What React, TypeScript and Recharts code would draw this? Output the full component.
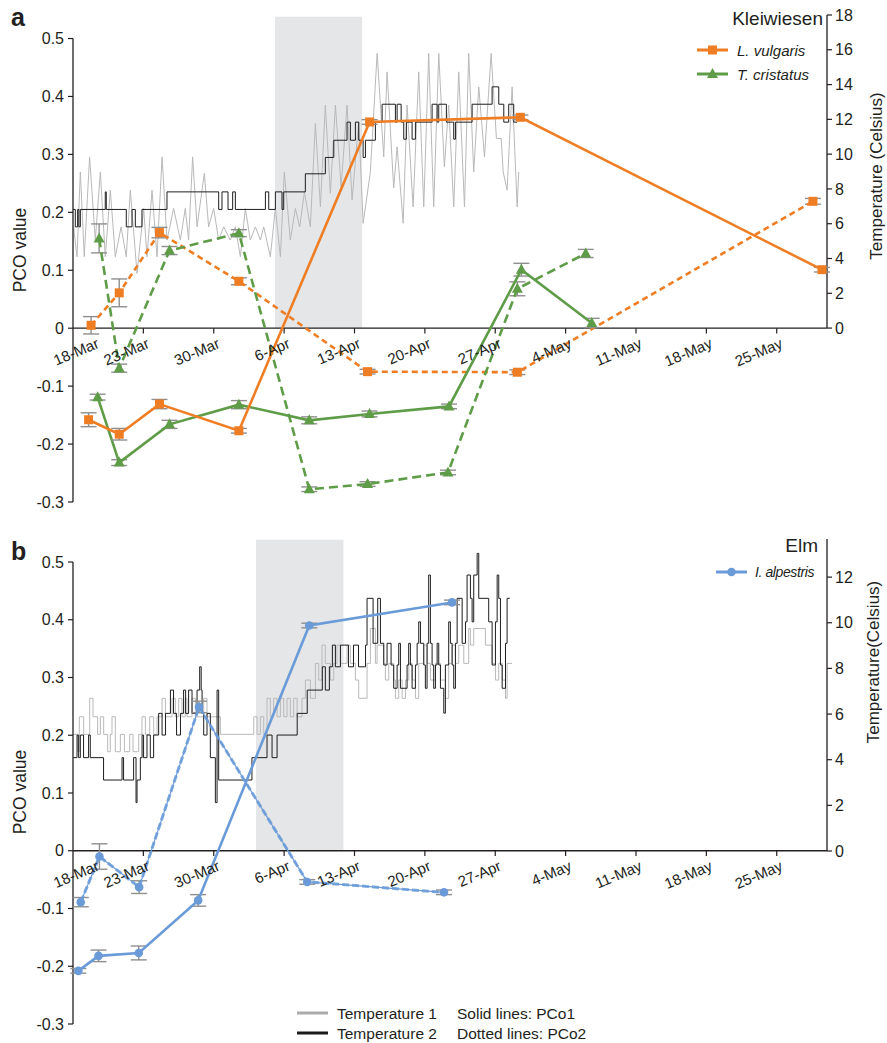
import React from 'react';
import { LineChart, Line, XAxis, YAxis, ReferenceArea, ReferenceLine, ReferenceDot, ErrorBar } from 'recharts';

const FONT = '"Liberation Sans", Arial, Helvetica, sans-serif';
const ORANGE = '#ee7d23';
const GREEN = '#5f9c47';
const BLUE = '#6a9bd8';
const TEXT = '#231f20';
const GREY_T = '#b9b9b9';
const BLACK_T = '#1e1e1e';
const ERR = '#8f8f8f';

// x axis: days since 16-Mar
const tickDays = [2, 7, 14, 21, 28, 35, 42, 49, 56, 63, 70];
const tickLabels = ['18-Mar', '23-Mar', '30-Mar', '6-Apr', '13-Apr', '20-Apr', '27-Apr', '4-May', '11-May', '18-May', '25-May'];
const tickMarkDays = [7, 14, 21, 28, 35, 42, 49, 56, 63, 70];
const pcoTicks = [-0.3, -0.2, -0.1, 0, 0.1, 0.2, 0.3, 0.4, 0.5];
const kTempTicks = [0, 2, 4, 6, 8, 10, 12, 14, 16, 18];
const eTempTicks = [0, 2, 4, 6, 8, 10, 12];

// Panel a: Kleiwiesen
const lvPco1Days = [1.55, 4.6, 8.6, 16.5, 29.5, 44.5, 74.5];
const lvPco1 = [-0.158, -0.183, -0.131, -0.177, 0.356, 0.364, 0.101];
const lvPco1Err = [0.012, 0.01, 0.008, 0.004, 0.004, 0.004, 0.004];
const lvPco2Days = [1.8, 4.6, 8.6, 16.5, 29.3, 44.2, 73.6];
const lvPco2 = [0.005, 0.061, 0.165, 0.081, -0.075, -0.076, 0.219];
const lvPco2Err = [0.015, 0.024, 0.009, 0.006, 0.004, 0.004, 0.005];
const tcPco1Days = [2.45, 4.6, 9.6, 16.5, 23.5, 29.5, 37.4, 44.6, 51.6];
const tcPco1 = [-0.119, -0.232, -0.166, -0.132, -0.159, -0.148, -0.135, 0.101, 0.009];
const tcPco1Err = [0.005, 0.005, 0.007, 0.007, 0.006, 0.005, 0.004, 0.011, 0.008];
const tcPco2Days = [2.6, 4.6, 9.6, 16.5, 23.5, 29.3, 37.3, 44.2, 51.0];
const tcPco2 = [0.155, -0.069, 0.134, 0.164, -0.278, -0.269, -0.249, 0.068, 0.129];
const tcPco2Err = [0.025, 0.007, 0.007, 0.006, 0.004, 0.004, 0.004, 0.012, 0.007];

const kTemp1 = [
  [0.06, 5.82], [0.4, 4.1], [0.73, 8.98], [1.12, 4.1], [1.65, 9.84], [2.22, 5.06], [2.72, 8.98], [3.21, 4.1],
  [3.71, 7.93], [4.21, 4.1], [4.78, 5.82], [5.3, 4.1], [5.7, 7.93], [6.37, 3.14], [7.03, 6.88], [7.36, 4.1],
  [7.86, 7.93], [8.36, 4.1], [8.86, 9.84], [9.35, 5.06], [10.01, 6.88], [10.68, 5.06], [11.17, 6.88], [11.5, 5.06],
  [11.9, 9.84], [12.34, 5.82], [13.06, 8.89], [13.49, 5.82], [13.99, 6.88], [14.49, 5.06], [14.99, 5.82], [15.65, 5.06],
  [16.15, 5.82], [16.65, 4.1], [17.14, 6.88], [17.64, 5.06], [18.14, 5.82], [18.64, 5.06], [18.97, 5.82], [19.63, 4.1],
  [20.13, 6.88], [20.63, 4.1], [21.02, 8.98], [21.62, 5.06], [22.12, 6.88], [22.55, 5.82], [23.02, 7.83], [23.61, 5.82],
  [24.11, 11.76], [24.61, 6.97], [25.1, 12.82], [25.6, 7.74], [26.1, 12.82], [26.67, 8.12], [27.26, 12.82], [27.76, 7.36],
  [28.42, 11.86], [28.86, 6.02], [29.58, 8.98], [30.25, 15.79], [30.91, 9.84], [31.24, 14.73], [31.9, 8.05], [32.24, 10.42],
  [32.84, 6.03], [33.23, 12.82], [33.83, 6.97], [34.39, 14.73], [34.89, 6.97], [35.38, 15.79], [35.88, 6.97], [36.38, 15.79],
  [36.94, 9.27], [37.37, 12.82], [37.87, 6.97], [38.37, 14.73], [38.94, 6.97], [39.36, 15.79], [39.86, 8.98], [40.36, 13.87],
  [40.93, 9.84], [41.59, 15.79], [42.12, 10.9], [42.59, 10.9], [42.79, 8.98], [43.18, 7.93], [43.68, 13.87], [44.18, 6.97],
  [44.34, 8.98],
];
const kTemp2 = [
  [0, 6.82], [0.23, 5.82], [0.46, 6.82], [0.59, 5.82], [0.73, 6.82], [3.21, 7.83], [3.31, 6.82], [5.3, 5.82],
  [5.87, 6.82], [6.2, 5.82], [6.86, 6.82], [9.35, 7.83], [14.49, 6.82], [14.82, 7.83], [15.42, 6.82], [15.88, 7.83],
  [16.15, 6.82], [19.14, 7.83], [19.47, 6.82], [20.13, 7.83], [20.79, 6.82], [20.96, 7.83], [23.11, 8.87], [25.1, 9.81],
  [25.94, 10.8], [27.26, 11.84], [27.59, 10.8], [28.09, 11.84], [28.42, 10.8], [28.86, 9.81], [29.09, 10.8], [30.08, 11.84],
  [30.75, 12.87], [32.07, 11.84], [32.24, 12.87], [32.64, 11.84], [32.9, 10.86], [33.16, 11.84], [33.73, 10.86], [34.06, 11.84],
  [35.72, 12.87], [36.22, 11.84], [36.38, 12.87], [37.14, 11.84], [37.87, 10.86], [38.04, 11.84], [39.7, 12.87], [41.69, 13.87],
  [42.35, 12.87], [42.85, 11.84], [43.34, 12.87], [43.84, 11.84], [44.18, 11.84],
];

// Panel b: Elm
const iaPco1Days = [0.53, 2.54, 6.54, 12.45, 23.5, 37.7];
const iaPco1 = [-0.208, -0.182, -0.177, -0.086, 0.39, 0.43];
const iaPco1Err = [0.004, 0.01, 0.012, 0.01, 0.004, 0.004];
const iaPco2Days = [0.77, 2.63, 6.58, 12.54, 23.3, 36.9];
const iaPco2 = [-0.089, -0.01, -0.063, 0.249, -0.054, -0.072];
const iaPco2Err = [0.008, 0.022, 0.011, 0.01, 0.004, 0.004];

const eTemp1 = [
  [0, 5.11], [0.46, 4.35], [0.63, 5.88], [1.06, 5.11], [1.66, 6.69], [1.99, 5.88], [2.45, 5.11], [2.72, 5.88],
  [3.05, 5.11], [3.45, 4.35], [3.71, 5.11], [3.88, 5.88], [4.21, 4.35], [4.71, 5.11], [5.11, 4.35], [5.64, 5.11],
  [5.97, 4.35], [6.53, 5.11], [6.86, 5.88], [7.2, 5.11], [7.63, 5.88], [8.03, 5.11], [8.36, 5.88], [8.86, 6.69],
  [9.19, 5.88], [9.85, 6.69], [10.18, 5.88], [10.51, 6.69], [10.84, 5.88], [11.17, 6.69], [11.34, 5.88], [11.84, 6.69],
  [12.17, 5.88], [13.0, 6.69], [13.33, 5.88], [14.66, 5.11], [17.98, 5.88], [18.31, 5.11], [18.64, 5.88], [18.97, 5.11],
  [19.3, 6.69], [19.63, 5.88], [19.96, 6.69], [20.3, 5.88], [20.63, 6.69], [20.96, 5.88], [21.29, 6.69], [21.62, 5.88],
  [21.95, 6.69], [22.29, 5.88], [22.78, 6.69], [23.12, 7.49], [23.61, 6.69], [24.11, 8.22], [24.44, 7.49], [24.77, 9.02],
  [25.1, 8.22], [25.6, 7.49], [25.93, 8.22], [26.26, 9.02], [26.6, 8.22], [27.26, 9.02], [27.59, 8.22], [28.09, 7.49],
  [28.42, 6.69], [29.25, 8.22], [29.58, 9.75], [30.08, 8.22], [30.25, 9.02], [30.91, 8.22], [31.07, 7.49], [31.41, 8.22],
  [31.9, 7.49], [32.07, 6.69], [32.4, 7.49], [32.74, 6.69], [33.07, 7.49], [33.4, 8.22], [33.73, 7.49], [34.06, 6.69],
  [34.39, 8.22], [34.89, 9.02], [35.22, 8.22], [35.55, 7.49], [36.05, 8.22], [36.55, 7.49], [37.04, 6.69], [37.37, 8.22],
  [37.71, 9.02], [38.04, 8.22], [38.37, 9.02], [38.87, 8.22], [39.36, 9.75], [39.53, 9.02], [39.86, 9.75], [41.02, 9.02],
  [41.69, 8.22], [42.02, 7.49], [42.35, 8.22], [42.69, 7.49], [43.02, 6.69], [43.18, 8.22], [43.68, 8.22],
];
const eTemp2 = [
  [0, 4.09], [0.4, 5.08], [0.56, 4.09], [0.73, 5.08], [1.05, 4.09], [1.55, 5.08], [1.72, 4.09], [3.04, 3.11],
  [4.88, 4.09], [5.03, 3.11], [6.03, 4.09], [6.27, 2.12], [6.37, 3.11], [6.7, 4.09], [6.87, 5.08], [7.02, 4.09],
  [7.36, 5.08], [7.69, 4.09], [8.02, 5.08], [8.52, 6.03], [8.86, 5.08], [9.2, 6.03], [9.69, 7.05], [10.0, 6.03],
  [10.3, 5.08], [10.69, 6.03], [11.0, 7.05], [11.2, 6.03], [11.5, 7.05], [11.84, 6.03], [12.34, 7.05], [12.6, 8.07],
  [12.75, 7.05], [12.84, 6.03], [13.0, 5.08], [13.33, 6.03], [13.66, 4.09], [14.16, 2.12], [14.33, 7.05], [14.49, 3.11],
  [17.8, 4.09], [19.3, 5.08], [19.8, 4.09], [20.3, 5.08], [22.3, 6.03], [23.3, 7.05], [24.8, 8.07], [25.1, 7.05],
  [25.5, 8.07], [25.8, 9.02], [26.1, 8.07], [26.6, 9.02], [27.4, 8.07], [27.9, 9.02], [28.4, 8.07], [29.1, 9.02],
  [29.25, 11.07], [29.85, 9.1], [30.31, 11.07], [30.58, 9.1], [30.91, 8.15], [31.24, 9.1], [31.64, 8.15], [31.9, 7.13],
  [32.24, 8.15], [32.4, 9.1], [32.57, 7.13], [33.23, 8.15], [33.39, 9.1], [33.56, 8.15], [33.73, 7.13], [34.06, 8.15],
  [34.23, 9.1], [34.39, 10.04], [34.56, 9.1], [34.89, 8.15], [35.05, 7.13], [35.22, 9.1], [35.38, 12.09], [35.55, 9.1],
  [35.72, 8.15], [35.88, 7.13], [36.05, 8.15], [36.22, 9.1], [36.38, 8.15], [36.55, 7.13], [36.88, 6.04], [37.04, 8.15],
  [37.37, 10.04], [37.54, 9.1], [37.71, 8.15], [37.87, 7.13], [38.04, 9.1], [38.21, 11.07], [38.71, 9.1], [39.04, 10.04],
  [39.2, 12.09], [39.53, 11.07], [39.7, 10.04], [39.86, 12.09], [40.2, 13.04], [40.36, 11.07], [41.35, 10.04], [41.69, 8.15],
  [42.02, 10.04], [42.19, 12.09], [42.35, 11.07], [42.52, 8.15], [42.69, 7.13], [43.02, 9.1], [43.18, 11.07], [43.44, 11.07],
];

const toPts = (days: number[], vals: number[], errs: number[]) => days.map((d, i) => ({ d, v: vals[i], e: errs[i] }));
const toTemp = (pairs: number[][]) => pairs.map(([d, t]) => ({ d, t }));

const SquareDot = (p: any) =>
  p.cx == null ? <g key={`s${p.index}`} /> : <rect key={`s${p.index}`} x={p.cx - 4.5} y={p.cy - 4.5} width={9} height={9} fill={ORANGE} />;
const TriDot = (p: any) =>
  p.cx == null ? <g key={`t${p.index}`} /> : (
    <polygon key={`t${p.index}`} points={`${p.cx},${p.cy - 6} ${p.cx - 5.5},${p.cy + 4} ${p.cx + 5.5},${p.cy + 4}`} fill={GREEN} />
  );
const CircleDot = (p: any) =>
  p.cx == null ? <g key={`c${p.index}`} /> : <circle key={`c${p.index}`} cx={p.cx} cy={p.cy} r={4.3} fill={BLUE} />;

const xLabelShape = (text: string) => (p: any) => {
  const x = p.cx + 7;
  const y = p.cy + 19;
  return (
    <text x={x} y={y} transform={`rotate(-23 ${x} ${y})`} textAnchor="end" fontSize={15} fill={TEXT} fontFamily={FONT}>
      {text}
    </text>
  );
};

const fmtPco = (v: number) => (v === 0 ? '0' : v.toFixed(1));
const tickStyle = { fontSize: 16, fill: TEXT, fontFamily: FONT };

function axisDecor(rightTop: number) {
  return [
    <ReferenceLine key="ax-l" yAxisId="left" segment={[{ x: 0, y: -0.3 }, { x: 0, y: 0.5 }]} stroke={TEXT} strokeWidth={1.3} ifOverflow="visible" />,
    <ReferenceLine key="ax-r" yAxisId="right" segment={[{ x: 75, y: 0 }, { x: 75, y: rightTop }]} stroke={TEXT} strokeWidth={1.3} ifOverflow="visible" />,
    <ReferenceLine key="ax-x" yAxisId="left" y={0} stroke={TEXT} strokeWidth={1.3} ifOverflow="visible" />,
    ...tickMarkDays.map((d) => (
      <ReferenceLine key={`tm${d}`} yAxisId="left" segment={[{ x: d, y: 0 }, { x: d, y: -0.009 }]} stroke={TEXT} strokeWidth={1.2} ifOverflow="visible" />
    )),
  ];
}

function xLabels() {
  return tickDays.map((d, i) => (
    <ReferenceDot key={`xl${d}`} yAxisId="left" x={d} y={0} r={0} ifOverflow="visible" shape={xLabelShape(tickLabels[i])} />
  ));
}

function PanelA() {
  return (
    <LineChart width={887} height={520} margin={{ top: 15, right: 0, bottom: 18, left: 13 }}>
      <XAxis type="number" dataKey="d" domain={[0, 75]} allowDataOverflow hide />
      <YAxis yAxisId="left" type="number" domain={[-0.3, 0.5406]} allowDataOverflow ticks={pcoTicks} tickFormatter={fmtPco}
        axisLine={false} tickLine={{ stroke: TEXT, strokeWidth: 1.2 }} tickSize={5} tickMargin={4} width={60} tick={tickStyle} />
      <YAxis yAxisId="right" orientation="right" type="number" domain={[-10, 18]} allowDataOverflow ticks={kTempTicks}
        axisLine={false} tickLine={{ stroke: TEXT, strokeWidth: 1.2 }} tickSize={5} tickMargin={3} width={60} tick={tickStyle} />
      <ReferenceArea yAxisId="left" x1={20.1} x2={28.76} y1={0} y2={0.5377} fill="#e5e6e8" fillOpacity={1} stroke="none" />
      <Line yAxisId="right" data={toTemp(kTemp1)} dataKey="t" type="linear" stroke={GREY_T} strokeWidth={1} dot={false} activeDot={false} isAnimationActive={false} />
      <Line yAxisId="right" data={toTemp(kTemp2)} dataKey="t" type="stepAfter" stroke={BLACK_T} strokeWidth={1} dot={false} activeDot={false} isAnimationActive={false} />
      {axisDecor(18)}
      <Line yAxisId="left" data={toPts(lvPco2Days, lvPco2, lvPco2Err)} dataKey="v" stroke={ORANGE} strokeWidth={2.6} strokeDasharray="6 4" dot={SquareDot} activeDot={false} isAnimationActive={false}>
        <ErrorBar dataKey="e" direction="y" width={8} stroke={ERR} strokeWidth={1.4} />
      </Line>
      <Line yAxisId="left" data={toPts(tcPco2Days, tcPco2, tcPco2Err)} dataKey="v" stroke={GREEN} strokeWidth={2.6} strokeDasharray="9 5" dot={TriDot} activeDot={false} isAnimationActive={false}>
        <ErrorBar dataKey="e" direction="y" width={8} stroke={ERR} strokeWidth={1.4} />
      </Line>
      <Line yAxisId="left" data={toPts(tcPco1Days, tcPco1, tcPco1Err)} dataKey="v" stroke={GREEN} strokeWidth={2.6} dot={TriDot} activeDot={false} isAnimationActive={false}>
        <ErrorBar dataKey="e" direction="y" width={8} stroke={ERR} strokeWidth={1.4} />
      </Line>
      <Line yAxisId="left" data={toPts(lvPco1Days, lvPco1, lvPco1Err)} dataKey="v" stroke={ORANGE} strokeWidth={2.6} dot={SquareDot} activeDot={false} isAnimationActive={false}>
        <ErrorBar dataKey="e" direction="y" width={8} stroke={ERR} strokeWidth={1.4} />
      </Line>
      {xLabels()}
    </LineChart>
  );
}

function PanelB() {
  return (
    <LineChart width={887} height={523} margin={{ top: 19, right: 0, bottom: 19, left: 13 }}>
      <XAxis type="number" dataKey="d" domain={[0, 75]} allowDataOverflow hide />
      <YAxis yAxisId="left" type="number" domain={[-0.3, 0.5398]} allowDataOverflow ticks={pcoTicks} tickFormatter={fmtPco}
        axisLine={false} tickLine={{ stroke: TEXT, strokeWidth: 1.2 }} tickSize={5} tickMargin={4} width={60} tick={tickStyle} />
      <YAxis yAxisId="right" orientation="right" type="number" domain={[-7.58, 13.67]} allowDataOverflow ticks={eTempTicks}
        axisLine={false} tickLine={{ stroke: TEXT, strokeWidth: 1.2 }} tickSize={5} tickMargin={3} width={60} tick={tickStyle} />
      <ReferenceArea yAxisId="left" x1={18.2} x2={26.9} y1={0} y2={0.5385} fill="#e5e6e8" fillOpacity={1} stroke="none" />
      <Line yAxisId="right" data={toTemp(eTemp1)} dataKey="t" type="stepAfter" stroke={GREY_T} strokeWidth={1} dot={false} activeDot={false} isAnimationActive={false} />
      <Line yAxisId="right" data={toTemp(eTemp2)} dataKey="t" type="stepAfter" stroke={BLACK_T} strokeWidth={1} dot={false} activeDot={false} isAnimationActive={false} />
      {axisDecor(13.67)}
      <Line yAxisId="left" data={toPts(iaPco2Days, iaPco2, iaPco2Err)} dataKey="v" stroke={BLUE} strokeWidth={1.2} dot={false} activeDot={false} isAnimationActive={false} />
      <Line yAxisId="left" data={toPts(iaPco2Days, iaPco2, iaPco2Err)} dataKey="v" stroke={BLUE} strokeWidth={3} strokeDasharray="7 3" strokeOpacity={0.85} dot={CircleDot} activeDot={false} isAnimationActive={false}>
        <ErrorBar dataKey="e" direction="y" width={8} stroke={ERR} strokeWidth={1.4} />
      </Line>
      <Line yAxisId="left" data={toPts(iaPco1Days, iaPco1, iaPco1Err)} dataKey="v" stroke={BLUE} strokeWidth={2.6} dot={CircleDot} activeDot={false} isAnimationActive={false}>
        <ErrorBar dataKey="e" direction="y" width={8} stroke={ERR} strokeWidth={1.4} />
      </Line>
      {xLabels()}
    </LineChart>
  );
}

export default function App() {
  return (
    <div style={{ position: 'absolute', left: 0, top: 0, width: 887, height: 1043, background: '#fff', fontFamily: FONT }}>
      <div style={{ position: 'absolute', left: 0, top: 0 }}>
        <PanelA />
      </div>
      <div style={{ position: 'absolute', left: 0, top: 520 }}>
        <PanelB />
      </div>
      <svg width={887} height={1043} style={{ position: 'absolute', left: 0, top: 0, pointerEvents: 'none' }} fontFamily={FONT}>
        <text x={11} y={26} fontSize={25} fontWeight="bold" fill={TEXT}>a</text>
        <text x={11} y={560} fontSize={25} fontWeight="bold" fill={TEXT}>b</text>
        <text x={823} y={25} fontSize={19} textAnchor="end" fill={TEXT}>Kleiwiesen</text>
        <text x={818} y={552} fontSize={19} textAnchor="end" fill={TEXT}>Elm</text>

        <line x1={697} x2={728} y1={50} y2={50} stroke={ORANGE} strokeWidth={3} />
        <rect x={708} y={45.5} width={9} height={9} fill={ORANGE} />
        <text x={737} y={55.5} fontSize={15} fontStyle="italic" fill={TEXT}>L. vulgaris</text>
        <line x1={697} x2={728} y1={74} y2={74} stroke={GREEN} strokeWidth={3} />
        <polygon points="712.5,68 707,78 718,78" fill={GREEN} />
        <text x={737} y={79.5} fontSize={15} fontStyle="italic" fill={TEXT}>T. cristatus</text>

        <line x1={716} x2={747} y1={572} y2={572} stroke={BLUE} strokeWidth={3} />
        <circle cx={731.5} cy={572} r={4.3} fill={BLUE} />
        <text x={755} y={577} fontSize={14} fontStyle="italic" letterSpacing={-0.4} fill={TEXT}>I. alpestris</text>

        <text x={20} y={250} fontSize={17.5} textAnchor="middle" dy="0.35em" transform="rotate(-90 20 250)" fill={TEXT}>PCO value</text>
        <text x={20} y={792} fontSize={17.5} textAnchor="middle" dy="0.35em" transform="rotate(-90 20 792)" fill={TEXT}>PCO value</text>
        <text x={876} y={176} fontSize={17} textAnchor="middle" dy="0.35em" transform="rotate(-90 876 176)" fill={TEXT}>Temperature (Celsius)</text>
        <text x={873} y={662} fontSize={17} textAnchor="middle" dy="0.35em" transform="rotate(-90 873 662)" fill={TEXT}>Temperature(Celsius)</text>

        <line x1={297} x2={328} y1={1013} y2={1013} stroke="#ababab" strokeWidth={3} />
        <text x={337} y={1018.5} fontSize={15.5} fill={TEXT}>Temperature 1</text>
        <line x1={297} x2={328} y1={1033} y2={1033} stroke="#1a1a1a" strokeWidth={3} />
        <text x={337} y={1038.5} fontSize={15.5} fill={TEXT}>Temperature 2</text>
        <text x={457} y={1018.5} fontSize={15.5} fill={TEXT}>Solid lines: PCo1</text>
        <text x={457} y={1038.5} fontSize={15.5} fill={TEXT}>Dotted lines: PCo2</text>
      </svg>
    </div>
  );
}
